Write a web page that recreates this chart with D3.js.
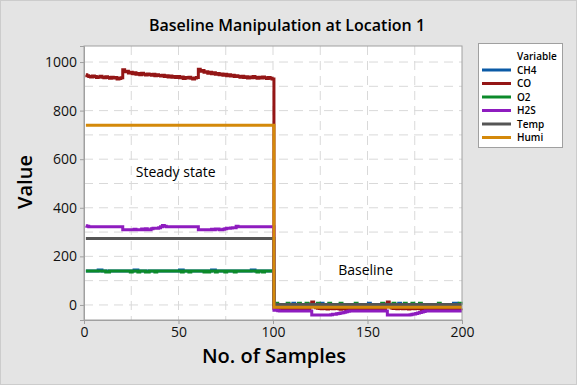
<!DOCTYPE html>
<html>
<head>
<meta charset="utf-8">
<script src="https://cdn.jsdelivr.net/npm/d3@7"></script>
<style>
  body { margin: 0; background: #e4e4e4; }
  svg { display: block; font-family: "Open Sans", "Noto Sans", sans-serif; }
</style>
</head>
<body>
<div id="chart"></div>
<script>
// series values, sample 1..200
const ch4 = [
  140,140,140,140,140,140,140,144,144,140, 140,140,140,140,140,140,140,140,140,140,
  140,140,140,140,140,140,144,144,140,140, 140,140,140,140,140,140,140,140,140,140,
  140,140,140,140,140,140,140,140,140,140, 144,144,140,140,140,140,140,140,140,140,
  140,140,140,140,140,140,140,144,144,140, 140,140,140,140,140,140,140,140,140,140,
  140,140,140,140,140,140,140,140,144,144, 140,140,140,140,140,140,140,140,140,140,
  0,0,0,0,0,0,0,0,0,0, 7,0,0,0,0,0,0,0,0,0,
  0,0,0,0,0,7,0,0,0,0, 0,0,0,0,0,0,0,0,0,0,
  0,0,0,0,0,0,0,0,0,0, 7,0,0,0,0,0,0,0,0,0,
  0,0,0,0,0,0,7,0,0,0, 0,0,0,0,0,0,0,0,0,0,
  0,0,0,0,0,0,0,0,0,0, 0,0,0,0,0,7,7,0,0,0
];
const co = [
  948,944,940,938,942,940,936,938,941,937, 935,939,936,933,937,934,936,930,932,935,
  968,960,962,955,958,952,956,950,953,948, 954,950,947,951,949,946,950,944,948,945,
  942,946,940,944,938,942,937,940,936,940, 935,938,932,936,934,937,933,930,934,936,
  970,962,965,958,960,954,958,952,956,950, 953,948,951,946,950,944,948,942,946,940,
  944,940,937,941,936,939,934,938,935,940, 936,933,937,934,938,935,932,936,933,930,
  -14,-16,-15,-17,-14,-16,-15,-18,-15,-16, -14,-15,-17,-15,-16,-14,-15,-16,-17,4,
  12,2,-12,-14,-15,-16,-14,-15,-17,-15, -14,-16,-15,-14,-16,-18,-15,-14,-22,-16,
  -15,-14,-16,-15,-17,-15,-14,-16,-15,-14, -16,-15,-14,-17,-15,-16,-14,-15,-17,4,
  12,0,-13,-15,-14,-16,-15,-14,-16,-15, -14,-17,-15,-14,-16,-15,-14,-16,-22,-15,
  -15,-16,-14,-15,-17,-15,-14,-16,-15,-14, -16,-15,-14,-17,-15,-16,-14,-15,-16,-15
];
const o2 = [
  140,140,140,140,140,140,140,140,140,140, 140,136,136,140,140,140,140,140,140,140,
  140,140,140,140,136,140,140,140,136,140, 140,140,136,136,140,140,140,136,140,140,
  140,140,140,140,140,140,140,140,140,140, 140,136,140,140,140,136,140,140,140,140,
  140,140,140,136,140,136,140,140,140,136, 140,140,140,140,136,140,140,140,140,136,
  140,140,140,140,140,140,140,140,140,140, 140,136,140,140,136,140,140,140,140,140,
  1,7,1,1,1,1,1,7,1,1, 1,1,1,7,1,1,1,7,1,1,
  1,1,1,7,1,1,1,1,1,7, 1,1,1,1,1,7,1,1,1,1,
  1,1,1,7,1,1,1,1,1,1, 1,1,1,1,1,1,1,7,1,1,
  1,1,1,7,1,1,1,1,1,7, 1,1,1,7,1,1,1,7,1,1,
  1,1,1,1,1,1,1,7,1,1, 1,1,1,1,1,1,1,1,7,1
];
const h2s = [
  326,324,322,322,322,322,322,322,322,322, 322,322,322,322,322,322,322,322,322,322,
  310,310,310,310,310,310,312,310,310,310, 313,310,314,310,310,314,316,316,316,318,
  322,327,324,322,322,322,322,322,322,322, 322,322,322,322,322,322,322,322,322,322,
  310,310,310,310,310,310,310,312,310,313, 313,310,310,312,314,316,316,317,318,318,
  324,322,322,322,322,322,322,322,322,322, 322,322,322,322,322,322,322,322,322,322,
  -22,-22,-24,-25,-25,-25,-25,-25,-25,-25, -25,-25,-25,-25,-25,-25,-25,-25,-25,-25,
  -41,-41,-41,-41,-41,-41,-41,-41,-41,-41, -40,-38,-38,-36,-35,-33,-32,-30,-28,-26,
  -25,-25,-25,-25,-25,-25,-25,-25,-25,-25, -25,-25,-25,-25,-25,-25,-25,-25,-25,-25,
  -41,-41,-41,-41,-41,-41,-41,-41,-41,-41, -41,-41,-40,-38,-37,-35,-33,-31,-29,-27,
  -25,-25,-25,-25,-25,-25,-25,-25,-25,-25, -25,-25,-25,-25,-25,-25,-25,-25,-25,-25
];
const temp = [
  274,274,274,274,274,274,274,274,274,274, 274,274,274,274,274,274,274,274,274,274,
  274,274,274,274,274,274,274,274,274,274, 274,274,274,274,274,274,274,274,274,274,
  274,274,274,274,274,274,274,274,274,274, 274,274,274,274,274,274,274,274,274,274,
  274,274,274,274,274,274,274,274,274,274, 274,274,274,274,274,274,274,274,274,274,
  274,274,274,274,274,274,274,274,274,274, 274,274,274,274,274,274,274,274,274,274,
  2,2,2,2,2,2,2,2,2,2, 2,2,2,2,2,2,2,2,2,2,
  2,2,2,2,2,2,2,2,2,2, 2,2,2,2,2,2,2,2,2,2,
  2,2,2,2,2,2,2,2,2,2, 2,2,2,2,2,2,2,2,2,2,
  2,2,2,2,2,2,2,2,2,2, 2,2,2,2,2,2,2,2,2,2,
  2,2,2,2,2,2,2,2,2,2, 2,2,2,2,2,2,2,2,2,2
];
const humi = [
  740,740,740,740,740,740,740,740,740,740, 740,740,740,740,740,740,740,740,740,740,
  740,740,740,740,740,740,740,740,740,740, 740,740,740,740,740,740,740,740,740,740,
  740,740,740,740,740,740,740,740,740,740, 740,740,740,740,740,740,740,740,740,740,
  740,740,740,740,740,740,740,740,740,740, 740,740,740,740,740,740,740,740,740,740,
  740,740,740,740,740,740,740,740,740,740, 740,740,740,740,740,740,740,740,740,740,
  -10,-10,-10,-10,-10,-10,-10,-10,-10,-10, -10,-10,-10,-10,-10,-10,-10,-10,-10,-10,
  -10,-10,-10,-10,-10,-10,-10,-10,-10,-10, -10,-10,-10,-10,-10,-10,-10,-10,-10,-10,
  -10,-10,-10,-10,-10,-10,-10,-10,-10,-10, -10,-10,-10,-10,-10,-10,-10,-10,-10,-10,
  -10,-10,-10,-10,-10,-10,-10,-10,-10,-10, -10,-10,-10,-10,-10,-10,-10,-10,-10,-10,
  -10,-10,-10,-10,-10,-10,-10,-10,-10,-10, -10,-10,-10,-10,-10,-10,-10,-10,-10,-10
];
const seriesNames = ["CH4", "CO", "O2", "H2S", "Temp", "Humi"];
const seriesValues = [ch4, co, o2, h2s, temp, humi];
const colors = ["#0b5aa6", "#941616", "#0c8a2a", "#8e1cbf", "#555555", "#d4890a"];
const xTicks = [0, 50, 100, 150, 200];
const yTicks = [0, 200, 400, 600, 800, 1000];

const W = 577, H = 385;
const margin = {top: 46, right: 115, bottom: 65, left: 84};
const width = W - margin.left - margin.right;
const height = H - margin.top - margin.bottom;

const svg = d3.select("#chart").append("svg")
    .attr("width", W).attr("height", H);

svg.append("rect")
    .attr("x", 0.5).attr("y", 0.5).attr("width", W - 1).attr("height", H - 1)
    .attr("fill", "#e4e4e4").attr("stroke", "#cccccc");

// title
svg.append("text")
    .attr("x", 287).attr("y", 31)
    .attr("text-anchor", "middle")
    .style("font-size", "16px").style("font-weight", 600)
    .text("Baseline Manipulation at Location 1");

const g = svg.append("g")
    .attr("transform", `translate(${margin.left}, ${margin.top})`);

const x = d3.scaleLinear().domain([0, 200]).range([0, width]);
const y = d3.scaleLinear().domain([-62, 1066]).range([height, 0]);

g.append("rect")
    .attr("width", width).attr("height", height)
    .attr("fill", "#fff");

// grid
g.append("g").selectAll("line")
  .data(d3.range(25, 200, 25))
  .join("line")
    .attr("x1", d => x(d)).attr("x2", d => x(d))
    .attr("y1", 0).attr("y2", height)
    .attr("stroke", "#d9d9d9").attr("stroke-dasharray", "9,6");
g.append("g").selectAll("line")
  .data(d3.range(0, 1001, 100))
  .join("line")
    .attr("x1", 0).attr("x2", width)
    .attr("y1", d => y(d)).attr("y2", d => y(d))
    .attr("stroke", "#d9d9d9").attr("stroke-dasharray", "9,6");

// lines
const line = d3.line()
    .x((d, i) => x(i + 1))
    .y(d => y(d))
    .curve(d3.curveStep);

g.append("g").selectAll("path")
  .data(seriesValues)
  .join("path")
    .attr("d", d => line(d))
    .attr("fill", "none")
    .attr("stroke", (d, i) => colors[i])
    .attr("stroke-width", 3);

// frame
g.append("rect")
    .attr("width", width).attr("height", height)
    .attr("fill", "none").attr("stroke", "#a0a0a0");

// axes
const xAxis = g.append("g")
    .attr("transform", `translate(0, ${height})`)
    .call(d3.axisBottom(x).tickValues(xTicks).tickSize(4).tickPadding(3));
const yAxis = g.append("g")
    .call(d3.axisLeft(y).tickValues(yTicks).tickFormat(d3.format("d")).tickSize(4).tickPadding(3));
[xAxis, yAxis].forEach(a => {
  a.select(".domain").attr("stroke", "#a0a0a0");
  a.selectAll(".tick line").attr("stroke", "#a0a0a0");
  a.selectAll("text").style("font-size", "14px").style("font-family", "Open Sans, sans-serif").attr("fill", "#111");
});

// axis labels
svg.append("text")
    .attr("transform", "rotate(-90)")
    .attr("x", -182).attr("y", 32)
    .attr("text-anchor", "middle")
    .style("font-size", "20px").style("font-weight", 600)
    .text("Value");
svg.append("text")
    .attr("x", 274).attr("y", 363)
    .attr("text-anchor", "middle")
    .style("font-size", "20px").style("font-weight", 600)
    .text("No. of Samples");

// annotations
g.append("text")
    .attr("x", x(48.5)).attr("y", y(527))
    .attr("text-anchor", "middle")
    .style("font-size", "14px")
    .text("Steady state");
g.append("text")
    .attr("x", x(149)).attr("y", y(122))
    .attr("text-anchor", "middle")
    .style("font-size", "14px")
    .text("Baseline");

// legend
const legend = svg.append("g").attr("transform", "translate(478, 43)");
legend.append("rect")
    .attr("x", 0.5).attr("y", 0.5).attr("width", 84).attr("height", 104)
    .attr("fill", "#fff").attr("stroke", "#a0a0a0");
legend.append("text")
    .attr("x", 39).attr("y", 17)
    .style("font-size", "10px").style("font-weight", 600)
    .text("Variable");
const entry = legend.selectAll(".entry")
  .data(seriesNames)
  .join("g")
    .attr("class", "entry")
    .attr("transform", (d, i) => `translate(0, ${27 + i * 13.5})`);
entry.append("line")
    .attr("x1", 4).attr("x2", 33)
    .attr("stroke", (d, i) => colors[i]).attr("stroke-width", 3);
entry.append("text")
    .attr("x", 39).attr("dy", "0.35em")
    .style("font-size", "10px").style("font-weight", 600)
    .text(d => d);
</script>
</body>
</html>
